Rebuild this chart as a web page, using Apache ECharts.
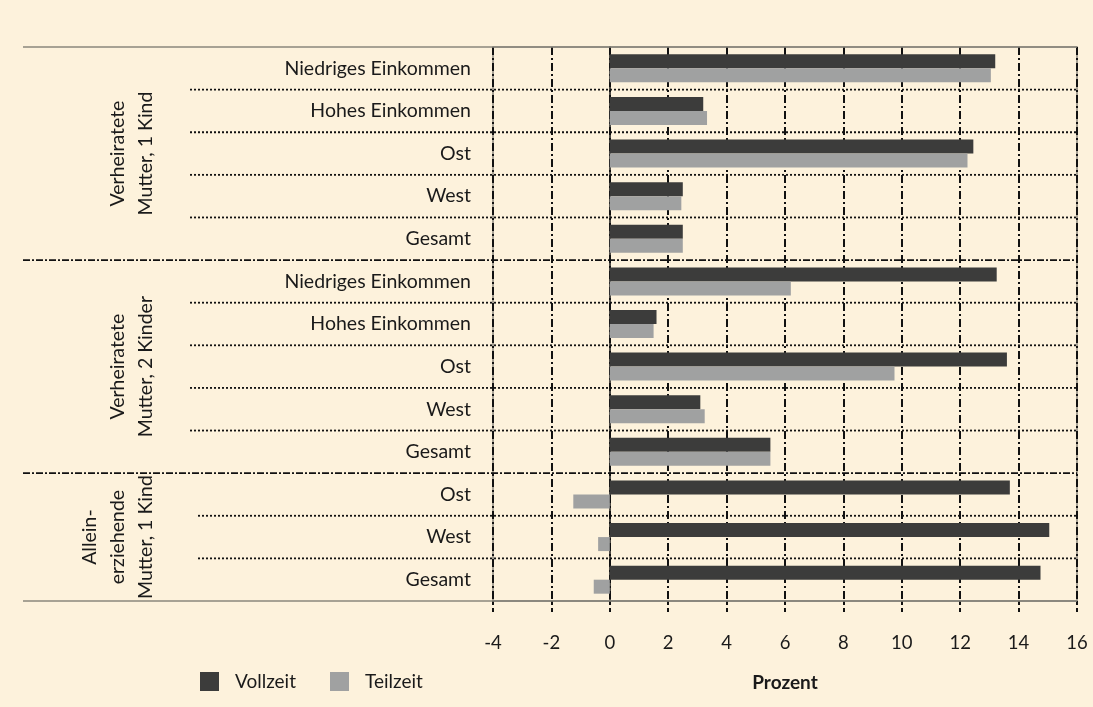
<!DOCTYPE html>
<html>
<head>
<meta charset="utf-8">
<script src="https://cdn.jsdelivr.net/npm/echarts@6/dist/echarts.min.js"></script>
<style>
html,body{margin:0;padding:0;background:#FDF2DC;}
#c{width:1093px;height:707px;}
</style>
</head>
<body>
<div id="c"></div>
<script>
const categories = [
  'Niedriges Einkommen','Hohes Einkommen','Ost','West','Gesamt',
  'Niedriges Einkommen','Hohes Einkommen','Ost','West','Gesamt',
  'Ost','West','Gesamt'
];
const groupLabels = ['Verheiratete\nMutter, 1 Kind','Verheiratete\nMutter, 2 Kinder','Allein-\nerziehende\nMutter, 1 Kind'];
const groupSizes = [5,5,3];
const vollzeit = [13.2,3.2,12.45,2.5,2.5, 13.25,1.6,13.6,3.1,5.5, 13.7,15.05,14.75];
const teilzeit = [13.05,3.33,12.25,2.45,2.5, 6.2,1.5,9.75,3.25,5.5, -1.25,-0.4,-0.55];
const xTicks = {min:-4, max:16, interval:2};

const FONT = 'Lato';
const catValues = categories.map((c,i)=> i + '|' + c);

const chart = echarts.init(document.getElementById('c'), null, {renderer:'canvas'});
const option = {
  backgroundColor:'#FDF2DC',
  animation:false,
  textStyle:{fontFamily:FONT},
  grid:{left:493, right:16, top:47, bottom:106, show:true, borderColor:'#8a877c', borderWidth:1.5, backgroundColor:'transparent'},
  legend:{
    left:195, top:667, itemWidth:19, itemHeight:19, itemGap:34, icon:'rect',
    textStyle:{fontFamily:FONT, fontSize:19, color:'#1a1a1a', padding:[0,0,0,11]},
    data:['Vollzeit','Teilzeit']
  },
  xAxis:{
    type:'value', min:xTicks.min, max:xTicks.max, interval:xTicks.interval,
    name:'Prozent', nameLocation:'middle', nameGap:72,
    nameTextStyle:{fontFamily:FONT, fontSize:19, fontWeight:'bold', color:'#1a1a1a'},
    axisLine:{show:true, lineStyle:{color:'#8a877c', width:1.5}},
    axisTick:{show:true, length:12, lineStyle:{color:'#111', width:2, type:[4,3]}},
    axisLabel:{fontFamily:FONT, fontSize:18.5, color:'#1a1a1a', margin:33},
    splitLine:{show:true, lineStyle:{color:'#111', width:2, type:[8,3,2,3]}}
  },
  yAxis:{
    type:'category', inverse:true, data:catValues,
    axisLine:{show:true, lineStyle:{color:'#111', width:1.5}},
    axisTick:{show:false},
    axisLabel:{fontFamily:FONT, fontSize:19.5, color:'#1a1a1a', margin:22,
      formatter:v=>v.split('|')[1]},
    splitLine:{show:false}
  },
  series:[
    {name:'Vollzeit', type:'bar', data:vollzeit, barWidth:14, barGap:'0%',
     itemStyle:{color:'#3C3C3B'}, z:3},
    {name:'Teilzeit', type:'bar', data:teilzeit, barWidth:14, barGap:'0%',
     itemStyle:{color:'#A0A1A1'}, z:3}
  ]
};
chart.setOption(option);

// separators and group labels, positioned via the axis scales
const yc = i => chart.convertToPixel({yAxisIndex:0}, catValues[i]);
const n = categories.length;
const step = yc(1) - yc(0);
const bound = k => (k===0) ? yc(0) - step/2 : (k===n ? yc(n-1) + step/2 : (yc(k-1)+yc(k))/2);
const xRight = chart.convertToPixel({xAxisIndex:0}, xTicks.max);
const graphics = [];
[0, n].forEach(k=>{
  graphics.push({type:'line', shape:{x1:23, y1:bound(k), x2:xRight, y2:bound(k)},
    style:{stroke:'#8a877c', lineWidth:1.5}, z:5});
});
let start = 0;
groupSizes.forEach((sz, g)=>{
  for(let k=start+1; k<start+sz; k++){
    graphics.push({type:'line', shape:{x1:(g===2?198:190), y1:bound(k), x2:xRight, y2:bound(k)},
      style:{stroke:'#111', lineWidth:1.8, lineDash:[2,2]}, z:5});
  }
  if(g>0){
    graphics.push({type:'line', shape:{x1:23, y1:bound(start), x2:xRight, y2:bound(start)},
      style:{stroke:'#111', lineWidth:1.8, lineDash:[7,2,2,2]}, z:5});
  }
  const cy = (bound(start) + bound(start+sz))/2;
  graphics.push({type:'text', x:160, y:cy, rotation:Math.PI/2,
    style:{text:groupLabels[g], fontFamily:FONT, fontSize:19.5, lineHeight:28, fill:'#1a1a1a',
      align:'center', verticalAlign:'bottom'}, z:5});
  start += sz;
});
chart.setOption({graphic:graphics});
</script>
</body>
</html>
